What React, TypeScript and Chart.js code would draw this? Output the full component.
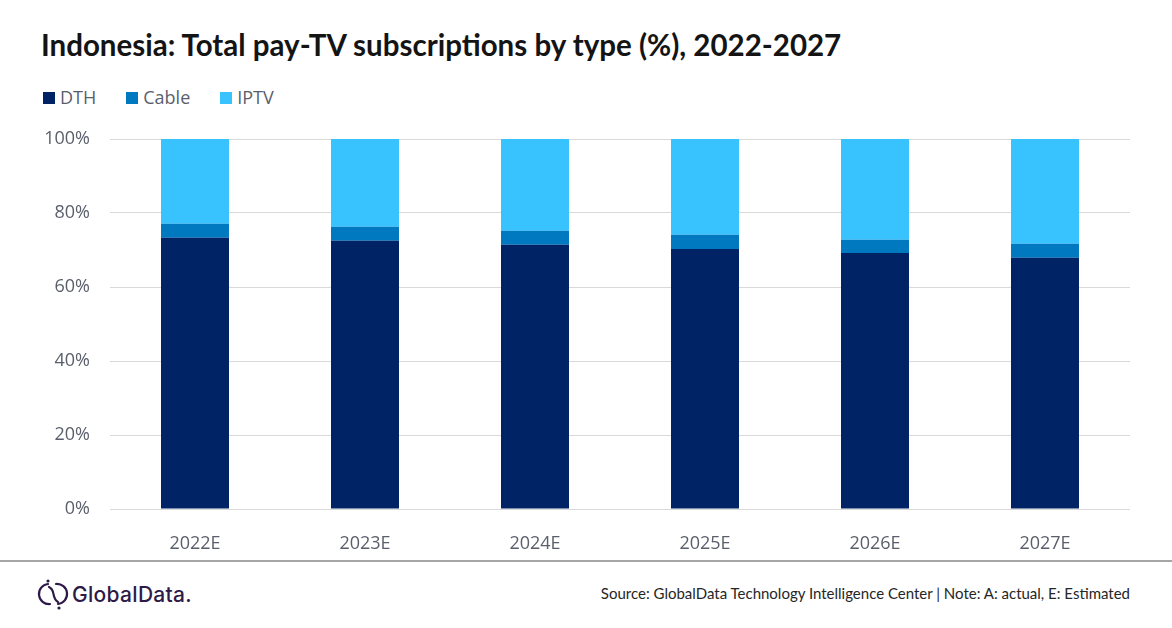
import React, { useEffect, useRef } from "react";
import { Chart, registerables } from "chart.js";

Chart.register(...registerables);

const categories = ["2022E", "2023E", "2024E", "2025E", "2026E", "2027E"];
const dthValues = [73.3, 72.5, 71.4, 70.3, 69.2, 67.9];
const cableValues = [3.8, 3.8, 3.8, 3.8, 3.6, 3.8];
const iptvValues = [22.9, 23.7, 24.8, 25.9, 27.2, 28.3];
const seriesNames = ["DTH", "Cable", "IPTV"];
const seriesColors = ["#002365", "#0079C1", "#38C3FF"];
const yTicks = [0, 20, 40, 60, 80, 100];

const titleText = "Indonesia: Total pay-TV subscriptions by type (%), 2022-2027";
const sourceText = "Source: GlobalData Technology Intelligence Center | Note: A: actual, E: Estimated";

export default function App() {
  const canvasRef = useRef<HTMLCanvasElement | null>(null);

  useEffect(() => {
    if (!canvasRef.current) return;
    const seriesValues = [dthValues, cableValues, iptvValues];
    const chart = new Chart(canvasRef.current, {
      type: "bar",
      data: {
        labels: categories,
        datasets: seriesNames.map((name, i) => ({
          label: name,
          data: seriesValues[i],
          backgroundColor: seriesColors[i],
          borderWidth: 0,
          categoryPercentage: 1,
          barPercentage: 0.4,
        })),
      },
      options: {
        responsive: false,
        animation: false,
        layout: { padding: { top: 19, right: 42, left: 0, bottom: 0 } },
        plugins: {
          legend: { display: false },
          tooltip: { enabled: false },
          title: { display: false },
        },
        scales: {
          x: {
            stacked: true,
            grid: { display: false },
            border: { display: false },
            ticks: {
              font: { family: "'Open Sans'", size: 18 },
              color: "#5a5f6b",
              padding: 16,
            },
            afterFit: (s: any) => {
              s.height = 51;
            },
          },
          y: {
            stacked: true,
            min: 0,
            max: 100,
            afterBuildTicks: (s: any) => {
              s.ticks = yTicks.map((v) => ({ value: v }));
            },
            ticks: {
              font: { family: "'Open Sans'", size: 18 },
              color: "#5a5f6b",
              padding: 20,
              callback: (v: any) => v + "%",
            },
            grid: { color: "#d9d9d9", lineWidth: 1, drawTicks: false },
            border: { display: false },
            afterFit: (s: any) => {
              s.width = 110;
              s.paddingTop = 0;
              s.paddingBottom = 0;
            },
          },
        },
      },
    });
    return () => chart.destroy();
  }, []);

  return (
    <div
      style={{
        position: "fixed",
        top: 0,
        left: 0,
        width: 1172,
        height: 628,
        background: "#ffffff",
        overflow: "hidden",
      }}
    >
      <div
        style={{
          position: "absolute",
          left: 41,
          top: 29.5,
          fontFamily: "Lato",
          fontWeight: 700,
          fontSize: 29.5,
          lineHeight: "29.5px",
          color: "#141414",
          whiteSpace: "nowrap",
        }}
      >
        {titleText}
      </div>
      <div
        style={{
          position: "absolute",
          left: 43,
          top: 88,
          display: "flex",
          gap: 30,
          fontFamily: "'Open Sans'",
          fontSize: 18,
          lineHeight: "18px",
          color: "#5a5f6b",
        }}
      >
        {seriesNames.map((name, i) => (
          <div key={name} style={{ display: "flex", alignItems: "center" }}>
            <span
              style={{
                display: "inline-block",
                width: 12,
                height: 12,
                background: seriesColors[i],
                marginRight: 5,
                position: "relative",
                top: 1,
              }}
            />
            <span style={{ whiteSpace: "nowrap" }}>{name}</span>
          </div>
        ))}
      </div>
      <div style={{ position: "absolute", left: 0, top: 120, width: 1172, height: 440 }}>
        <canvas ref={canvasRef} width={1172} height={440} />
      </div>
      <div
        style={{
          position: "absolute",
          left: 0,
          top: 560,
          width: 1172,
          height: 1.5,
          background: "#a6a6a6",
        }}
      />
      <svg
        style={{ position: "absolute", left: 36, top: 576 }}
        width={34}
        height={38}
        viewBox="0 0 34 38"
      >
        <g fill="none" stroke="#2E1A47" strokeWidth={2.2} strokeLinecap="round">
          <path d="M 12 8 A 10 10 0 0 0 14 28" />
          <path d="M 22 28 A 10 10 0 0 0 20 8" />
          <path d="M 13 11 C 20 14, 15 22, 22 26" />
        </g>
        <circle cx={12} cy={5} r={1.6} fill="#2E1A47" />
        <circle cx={23} cy={32} r={1.6} fill="#2E1A47" />
      </svg>
      <div
        style={{
          position: "absolute",
          left: 72,
          top: 584,
          fontFamily: "Inter",
          fontWeight: 500,
          fontSize: 21,
          lineHeight: "21px",
          color: "#2E1A47",
          letterSpacing: 0.3,
          whiteSpace: "nowrap",
        }}
      >
        GlobalData.
      </div>
      <div
        style={{
          position: "absolute",
          right: 42,
          top: 586,
          fontFamily: "Lato",
          fontSize: 15,
          lineHeight: "15px",
          color: "#262626",
          whiteSpace: "nowrap",
        }}
      >
        {sourceText}
      </div>
    </div>
  );
}
